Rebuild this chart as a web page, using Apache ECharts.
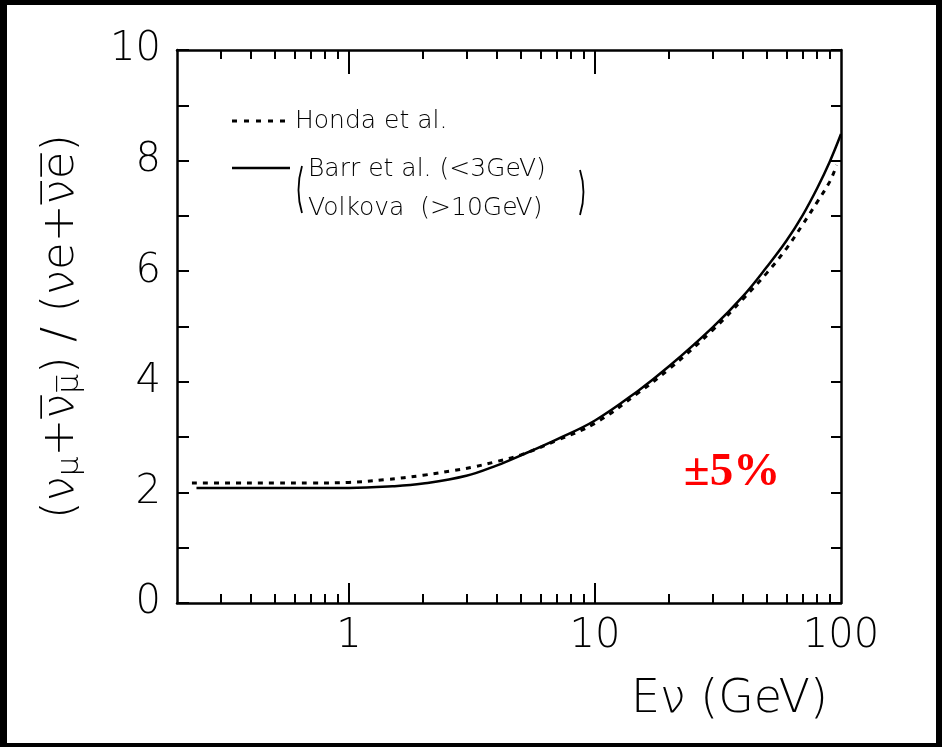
<!DOCTYPE html>
<html>
<head>
<meta charset="utf-8">
<script src="https://cdn.jsdelivr.net/npm/echarts@6/dist/echarts.min.js"></script>
<style>
    html, body { margin: 0; padding: 0; background: #fff; }
    #chart { width: 942px; height: 747px; }
</style>
</head>
<body>
<div id="chart"></div>
<script>
// Barr et al. (<3GeV) / Volkova (>10GeV) - solid line
const barrEnergy = [0.24, 0.3, 0.5, 0.7, 1, 1.5, 2, 3, 4, 5, 7, 10, 15, 20, 30, 40, 50, 60, 70, 80, 90, 100];
const barrRatio = [2.08, 2.08, 2.08, 2.08, 2.08, 2.11, 2.16, 2.30, 2.49, 2.67, 2.96, 3.30, 3.84, 4.28, 4.98, 5.55, 6.08, 6.55, 7.02, 7.50, 7.98, 8.48];

// Honda et al. - dotted line
const hondaEnergy = [0.23, 0.3, 0.5, 0.7, 1, 1.4, 2, 2.7, 3.2, 4, 5, 7, 10, 15, 20, 30, 40, 50, 60, 70, 80, 90, 96];
const hondaRatio = [2.17, 2.17, 2.17, 2.17, 2.18, 2.23, 2.31, 2.40, 2.46, 2.56, 2.68, 2.94, 3.25, 3.80, 4.23, 4.93, 5.5, 5.97, 6.41, 6.85, 7.25, 7.62, 7.92];

const xMajorTicks = [1, 10];
const xMinorTicks = [0.3, 0.4, 0.5, 0.6, 0.7, 0.8, 0.9, 2, 3, 4, 5, 6, 7, 8, 9, 20, 30, 40, 50, 60, 70, 80, 90];
const xTickLabels = [1, 10, 100];

const FONT = '"DejaVu Sans", sans-serif';

function pairs(xs, ys) {
    return xs.map((x, i) => [x, ys[i]]);
}

function xAxisPart(position, ticks, len, withLine, labels) {
    return {
        type: 'log',
        logBase: 10,
        min: 0.2,
        max: 100,
        position: position,
        axisLine: { show: withLine, onZero: false, lineStyle: { color: '#000', width: 2.5 } },
        axisTick: { show: true, inside: true, length: len, customValues: ticks, lineStyle: { color: '#000', width: 2 } },
        axisLabel: labels
            ? { show: true, customValues: labels, color: '#000', fontSize: 40, fontFamily: FONT, fontWeight: 200, margin: 14 }
            : { show: false },
        splitLine: { show: false },
        minorTick: { show: false }
    };
}

function yAxisPart(position, withLabels) {
    return {
        type: 'value',
        min: 0,
        max: 10,
        interval: 1,
        position: position,
        name: withLabels ? '(ν{s|μ}+ν̅{s|μ̅}) / (νe+ν̅e̅)' : '',
        nameLocation: 'middle',
        nameRotate: 90,
        nameGap: 92,
        nameTextStyle: {
            color: '#000',
            fontSize: 45,
            fontFamily: FONT,
            fontWeight: 200,
            rich: { s: { fontSize: 31, fontFamily: FONT, fontWeight: 200, color: '#000', verticalAlign: 'bottom', padding: [16, 0, 0, 0] } }
        },
        axisLine: { show: true, lineStyle: { color: '#000', width: 2.5 } },
        axisTick: { show: true, inside: true, length: position === 'left' ? 12 : 10, lineStyle: { color: '#000', width: 2 } },
        axisLabel: withLabels
            ? { show: true, color: '#000', fontSize: 40, fontFamily: FONT, fontWeight: 200, margin: 16,
                formatter: v => (v % 2 === 0 ? String(v) : '') }
            : { show: false },
        splitLine: { show: false }
    };
}

function frameRects() {
    // black scan border around the whole picture
    const s = { fill: '#000' };
    return [
        { type: 'rect', shape: { x: 0, y: 0, width: 942, height: 5 }, style: s },
        { type: 'rect', shape: { x: 0, y: 743, width: 942, height: 4 }, style: s },
        { type: 'rect', shape: { x: 0, y: 0, width: 7, height: 747 }, style: s },
        { type: 'rect', shape: { x: 936, y: 0, width: 6, height: 747 }, style: s }
    ];
}

function legendGraphics() {
    const txt = (text, x, y) => ({
        type: 'text', x: x, y: y,
        style: { text: text, font: '200 25px ' + FONT, fill: '#000', verticalAlign: 'middle' }
    });
    return [
        { type: 'line', shape: { x1: 232, y1: 121, x2: 290, y2: 121 },
          style: { stroke: '#000', lineWidth: 3, lineDash: [5, 7] } },
        txt('Honda et al.', 295, 121),
        { type: 'line', shape: { x1: 232, y1: 168, x2: 290, y2: 168 },
          style: { stroke: '#000', lineWidth: 2.5 } },
        { type: 'bezierCurve', shape: { x1: 302, y1: 166, cpx1: 295, cpy1: 190, x2: 302, y2: 213 },
          style: { stroke: '#000', lineWidth: 1.8, fill: null } },
        txt('Barr et al. (<3GeV)', 308, 169),
        txt('Volkova  (>10GeV)', 308, 208),
        { type: 'bezierCurve', shape: { x1: 580, y1: 170, cpx1: 587, cpy1: 192, x2: 580, y2: 215 },
          style: { stroke: '#000', lineWidth: 1.8, fill: null } }
    ];
}

function renderChart() {
    const chart = echarts.init(document.getElementById('chart'));
    chart.setOption({
        animation: false,
        backgroundColor: '#fff',
        grid: { left: 177, right: 101, top: 50, bottom: 144 },
        xAxis: [
            xAxisPart('bottom', xMajorTicks, 20, true, xTickLabels),
            xAxisPart('bottom', xMinorTicks, 9, false, null),
            xAxisPart('top', xMajorTicks, 24, true, null),
            xAxisPart('top', xMinorTicks, 9, false, null)
        ],
        yAxis: [yAxisPart('left', true), yAxisPart('right', false)],
        series: [
            {
                name: 'Barr et al. / Volkova',
                type: 'line',
                xAxisIndex: 0,
                yAxisIndex: 0,
                data: pairs(barrEnergy, barrRatio),
                showSymbol: false,
                smooth: 0.4,
                lineStyle: { color: '#000', width: 2.5 }
            },
            {
                name: 'Honda et al.',
                type: 'line',
                xAxisIndex: 0,
                yAxisIndex: 0,
                data: pairs(hondaEnergy, hondaRatio),
                showSymbol: false,
                smooth: 0.4,
                lineStyle: { color: '#000', width: 3, type: [5, 6] }
            }
        ],
        graphic: [
            ...legendGraphics(),
            {
                type: 'text', x: 828, y: 700,
                style: { text: 'Eν (GeV)', font: '200 46px ' + FONT, fill: '#000', align: 'right', verticalAlign: 'middle' }
            },
            {
                type: 'text', x: 732, y: 473,
                style: { text: '±5%', font: 'bold 47px "Liberation Serif", serif', fill: '#ff0000', align: 'center', verticalAlign: 'middle' }
            },
            ...frameRects()
        ]
    });
}

window.addEventListener('DOMContentLoaded', renderChart);
</script>
</body>
</html>
